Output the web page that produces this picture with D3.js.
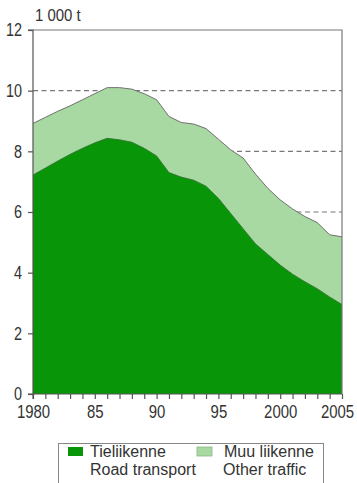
<!DOCTYPE html>
<html>
<head>
<meta charset="utf-8">
<script src="https://cdn.jsdelivr.net/npm/d3@7"></script>
<style>
  html, body { margin: 0; padding: 0; background: #fff; }
  svg { display: block; }
  text { font-family: "Liberation Sans", Arial, sans-serif; fill: #333; }
</style>
</head>
<body>
<svg id="chart" width="357" height="483"></svg>
<script>
// Emissions by transport, 1 000 tonnes
const years = d3.range(1980, 2006);
const roadTransport = [7.22, 7.45, 7.68, 7.9, 8.1, 8.28, 8.43, 8.38, 8.3, 8.1, 7.85, 7.3, 7.15, 7.05, 6.85, 6.45, 5.95, 5.45, 4.95, 4.6, 4.25, 3.95, 3.7, 3.47, 3.2, 2.95];
const totalTraffic  = [8.92, 9.12, 9.32, 9.5, 9.7, 9.9, 10.1, 10.1, 10.05, 9.9, 9.7, 9.15, 8.95, 8.9, 8.75, 8.4, 8.05, 7.78, 7.25, 6.78, 6.4, 6.1, 5.85, 5.65, 5.25, 5.18];
const yTicks = [0, 2, 4, 6, 8, 10, 12];
const xLabelYears = [1980, 1985, 1990, 1995, 2000, 2005];
const xLabels = ["1980", "85", "90", "95", "2000", "2005"];
const gridValues = [2, 4, 6, 8, 10];
const unitLabel = "1 000 t";
const legendItems = [
  { fi: "Tieliikenne", en: "Road transport", color: "#089608" },
  { fi: "Muu liikenne", en: "Other traffic", color: "#a9d9a2" }
];

const svg = d3.select("#chart");
const plotL = 33, plotR = 342, plotT = 30, plotB = 394;

const x = d3.scaleLinear().domain([1980, 2005]).range([plotL, plotR]);
const y = d3.scaleLinear().domain([0, 12]).range([plotB, plotT]);

// squeeze a text horizontally to mimic a narrow face
function condense(sel, k) {
  sel.each(function () {
    const w = this.getComputedTextLength();
    if (w > 0) {
      this.setAttribute("textLength", (w * k).toFixed(2));
      this.setAttribute("lengthAdjust", "spacingAndGlyphs");
    }
  });
}

// dashed gridlines behind the areas
svg.append("g").selectAll("line").data(gridValues).join("line")
  .attr("x1", plotL).attr("x2", plotR)
  .attr("y1", d => y(d)).attr("y2", d => y(d))
  .attr("stroke", "#777").attr("stroke-width", 1.2)
  .attr("stroke-dasharray", "5,3.5");

const rows = years.map((yr, i) => ({ year: yr, road: roadTransport[i], total: totalTraffic[i] }));

// other traffic: band between road transport and the total
svg.append("path").datum(rows)
  .attr("fill", legendItems[1].color)
  .attr("d", d3.area().x(d => x(d.year)).y0(d => y(d.road)).y1(d => y(d.total)));

svg.append("path").datum(rows)
  .attr("fill", "none").attr("stroke", "#707070").attr("stroke-width", 1)
  .attr("d", d3.line().x(d => x(d.year)).y(d => y(d.total)));

// road transport
svg.append("path").datum(rows)
  .attr("fill", legendItems[0].color)
  .attr("d", d3.area().x(d => x(d.year)).y0(y(0)).y1(d => y(d.road)));

svg.append("path").datum(rows)
  .attr("fill", "none").attr("stroke", "#2f6a2f").attr("stroke-width", 0.8)
  .attr("d", d3.line().x(d => x(d.year)).y(d => y(d.road)));

// frame top and right
svg.append("path")
  .attr("d", `M${plotL},${plotT}H${plotR}V${plotB}`)
  .attr("fill", "none").attr("stroke", "#777").attr("stroke-width", 1.2);

// y axis
const yAxis = d3.axisLeft(y).tickValues(yTicks).tickSize(5).tickPadding(6).tickFormat(d3.format("d"));
const gy = svg.append("g").attr("transform", `translate(${plotL},0)`).call(yAxis);
gy.select(".domain").attr("stroke", "#555").attr("stroke-width", 1.2)
  .attr("d", `M-5,${plotT}H0V${plotB + 5}`);
gy.selectAll(".tick line").attr("stroke", "#555").attr("stroke-width", 1.2);
gy.selectAll(".tick text").attr("font-size", 18).attr("fill", "#333")
  .style("font-family", '"Liberation Sans", Arial, sans-serif')
  .call(condense, 0.8);

// x axis: tick every year, labels every five
const xScaleK = 0.83;
const xAxis = d3.axisBottom(x).tickValues(years).tickSize(5).tickPadding(6)
  .tickFormat(d => { const i = xLabelYears.indexOf(d); return i >= 0 ? xLabels[i] : ""; });
const gx = svg.append("g").attr("transform", `translate(0,${plotB})`).call(xAxis);
gx.select(".domain").attr("stroke", "#555").attr("stroke-width", 1.2)
  .attr("d", `M${plotL - 5},0H${plotR}`);
gx.selectAll(".tick line").attr("stroke", "#555").attr("stroke-width", 1.2);
// narrow the year labels about their tick
gx.selectAll(".tick text").attr("font-size", 18).attr("fill", "#333")
  .style("font-family", '"Liberation Sans", Arial, sans-serif')
  .attr("transform", `scale(${xScaleK},1)`);
// last year label nudged inside the right edge
gx.selectAll(".tick text").filter(d => d === 2005)
  .attr("dx", -5 / xScaleK);

// unit label
svg.append("text").attr("x", 35).attr("y", 21)
  .attr("font-size", 17).text(unitLabel)
  .call(condense, 0.88);

// legend
const lg = svg.append("g");
lg.append("rect").attr("x", 58.5).attr("y", 443.5).attr("width", 265).attr("height", 60)
  .attr("fill", "#fff").attr("stroke", "#888").attr("stroke-width", 1);
const itemX = [68, 197];
legendItems.forEach((it, i) => {
  lg.append("rect").attr("x", itemX[i]).attr("y", 447).attr("width", 15).attr("height", 9)
    .attr("fill", it.color).attr("stroke", i === 1 ? "#8ab884" : "none").attr("stroke-width", 0.8);
  lg.append("text").attr("x", itemX[i] + 22 + (i === 1 ? 5 : 0)).attr("y", 457)
    .attr("font-size", 16).text(it.fi);
  lg.append("text").attr("x", itemX[i] + 22 + (i === 1 ? 4 : 0)).attr("y", 475)
    .attr("font-size", 16).text(it.en);
});
</script>
</body>
</html>
